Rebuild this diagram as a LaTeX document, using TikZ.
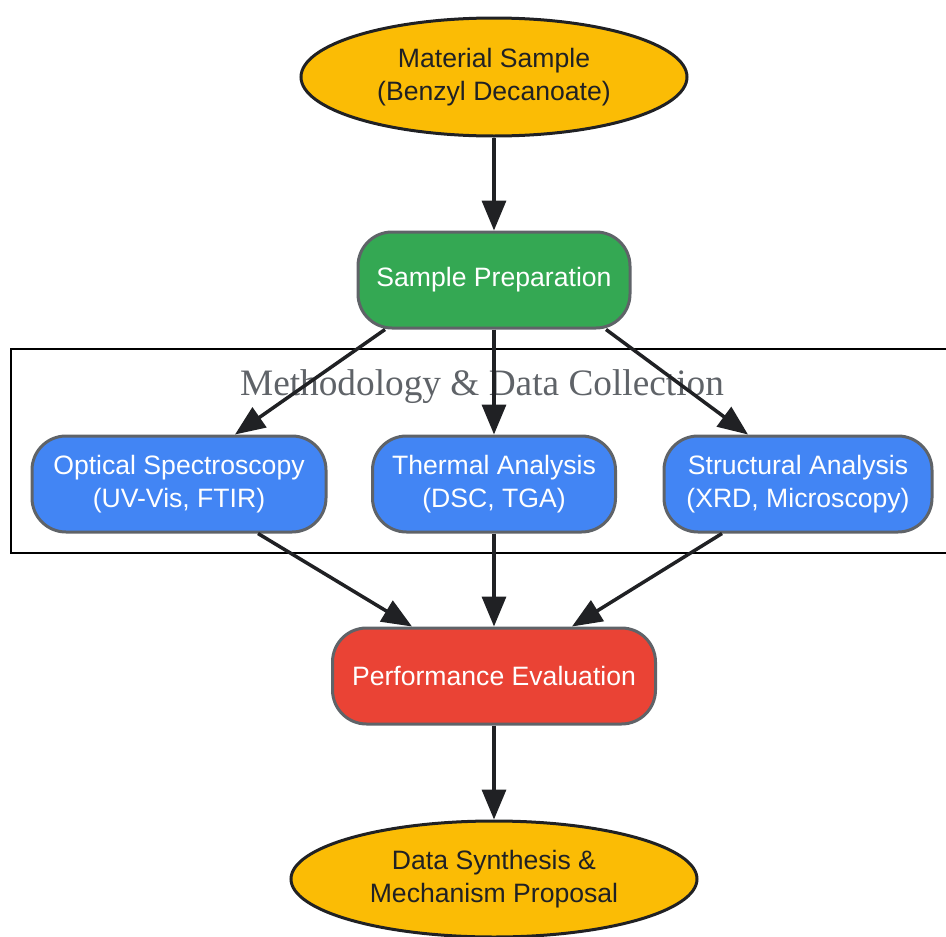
\documentclass[tikz,border=0pt]{standalone}
\usepackage{fontspec}
\setmainfont{Liberation Sans}
\newfontfamily\clusterfont{Liberation Serif}
\usetikzlibrary{shapes.geometric,arrows.meta}

\definecolor{gyellow}{HTML}{FBBC05}
\definecolor{ggreen}{HTML}{34A853}
\definecolor{gblue}{HTML}{4285F4}
\definecolor{gred}{HTML}{EA4335}
\definecolor{gdark}{HTML}{202124}
\definecolor{ggrey}{HTML}{5F6368}

\tikzset{
	terminal/.style={ellipse, draw=gdark, line width=3pt, fill=gyellow, text=gdark,
		inner sep=0pt, align=center, font=\fontsize{26.6}{33}\selectfont},
	stepbox/.style={rectangle, rounded corners=34pt, draw=ggrey, line width=3pt,
		text=white, inner sep=0pt, minimum height=96pt, align=center,
		font=\fontsize{26.6}{33}\selectfont},
	flow/.style={draw=gdark, line width=3.5pt, -{Triangle[length=30pt,width=24pt]}}
}

\begin{document}
\begin{tikzpicture}[x=1pt,y=-1pt]
		\useasboundingbox (0,0) rectangle (946,937);
		% cluster
		\draw[black, line width=2pt] (11,349) rectangle (962,553);
		\node[text=ggrey, font=\clusterfont\fontsize{37.3}{40}\selectfont] (clabel) at (482,387) {Methodology \& Data Collection};

		\node[terminal, minimum width=386pt, minimum height=118pt] (sample) at (494,77) {Material Sample\\(Benzyl Decanoate)};
		\node[stepbox, fill=ggreen, minimum width=272pt] (prep) at (494,280) {Sample Preparation};
		\node[stepbox, fill=gblue, minimum width=294pt] (optical) at (179,484) {Optical Spectroscopy\\(UV-Vis, FTIR)};
		\node[stepbox, fill=gblue, minimum width=243pt] (thermal) at (494,484) {Thermal Analysis\\(DSC, TGA)};
		\node[stepbox, fill=gblue, minimum width=268pt] (struct) at (798,484) {Structural Analysis\\(XRD, Microscopy)};
		\node[stepbox, fill=gred, minimum width=323pt] (perf) at (494,676) {Performance Evaluation};
		\node[terminal, minimum width=406pt, minimum height=116pt] (synth) at (494,879) {Data Synthesis \&\\Mechanism Proposal};

		\draw[flow] (sample) -- (prep);
		\draw[flow] ([xshift=-109pt]prep.south) -- ([xshift=56pt]optical.north);
		\draw[flow] (prep) -- (thermal);
		\draw[flow] ([xshift=112pt]prep.south) -- ([xshift=-50pt]struct.north);
		\draw[flow] ([xshift=79pt]optical.south) -- ([xshift=-82pt]perf.north);
		\draw[flow] (thermal) -- (perf);
		\draw[flow] ([xshift=-76pt]struct.south) -- ([xshift=78pt]perf.north);
		\draw[flow] (perf) -- (synth);
		\end{tikzpicture}
\end{document}
